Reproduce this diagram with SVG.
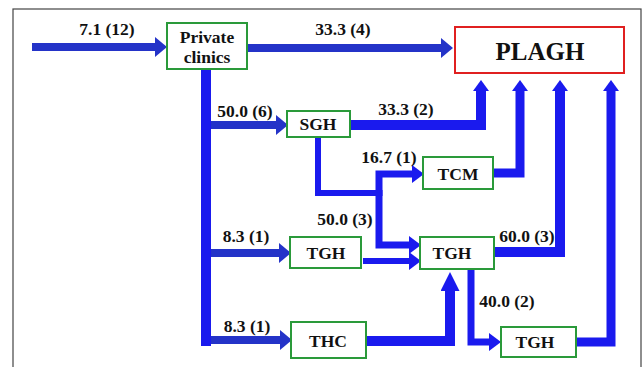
<svg xmlns="http://www.w3.org/2000/svg" width="644" height="367" viewBox="0 0 644 367">
<style>
.lbl{font-family:"Liberation Serif","Times New Roman",serif;font-weight:bold;font-size:17.5px;fill:#111;text-anchor:middle}
.nt{font-family:"Liberation Serif","Times New Roman",serif;font-weight:bold;font-size:17.5px;fill:#111;text-anchor:middle}
.gbox{fill:#fff;stroke:#2a9a3a;stroke-width:2}
.rbox{fill:#fff;stroke:#e02020;stroke-width:2}
.feed{fill:none;stroke:#2433c8;stroke-width:8}
.ln{fill:none;stroke:#1a1aee;stroke-linejoin:miter}
</style>
<defs>
<marker id="ah" markerUnits="userSpaceOnUse" markerWidth="12" markerHeight="20" refX="0" refY="10" orient="auto" viewBox="0 0 12 20">
<path d="M0,0 L12,10 L0,20 z" fill="#2433c8"/>
</marker>
<marker id="ahb" markerUnits="userSpaceOnUse" markerWidth="12" markerHeight="18" refX="0" refY="9" orient="auto" viewBox="0 0 12 18">
<path d="M0,0 L12,9 L0,18 z" fill="#1a1aee"/>
</marker>
<marker id="au" markerUnits="userSpaceOnUse" markerWidth="11" markerHeight="16" refX="0" refY="8" orient="auto" viewBox="0 0 11 16">
<path d="M0,0 L11,8 L0,16 z" fill="#1a1aee"/>
</marker>
<marker id="au2" markerUnits="userSpaceOnUse" markerWidth="19" markerHeight="19" refX="0" refY="9.5" orient="auto" viewBox="0 0 19 19">
<path d="M0,0 L19,9.5 L0,19 z" fill="#1a1aee"/>
</marker>
</defs>
<rect x="0" y="0" width="644" height="367" fill="#fff"/>
<rect x="13" y="9" width="628" height="380" fill="none" stroke="#444" stroke-width="1.2"/>

<g id="connectors">
<path class="feed" d="M32,47 H155" marker-end="url(#ah)"/>
<path class="feed" d="M248,48 H441" marker-end="url(#ah)"/>
<path class="ln" d="M206,69 V346" stroke-width="10"/>
<path class="feed" d="M211,125 H276" marker-end="url(#ah)"/>
<path class="feed" d="M211,253 H279" marker-end="url(#ah)"/>
<path class="feed" d="M211,340 H280" marker-end="url(#ah)"/>
<path class="ln" d="M351,125 H481 V91" stroke-width="10" marker-end="url(#au)"/>
<path class="ln" d="M318,137 V193 H379" stroke-width="6"/>
<path class="ln" d="M379,196 V174 H412" stroke-width="7" marker-end="url(#ahb)"/>
<path class="ln" d="M379,190 V245 H409" stroke-width="7" marker-end="url(#ahb)"/>
<path class="ln" d="M493,173 H520 V91" stroke-width="9" marker-end="url(#au)"/>
<path class="ln" d="M363,261 H409" stroke-width="6" marker-end="url(#ahb)"/>
<path class="ln" d="M494,252 H560 V91" stroke-width="10" marker-end="url(#au)"/>
<path class="ln" d="M366,341 H450 V291" stroke-width="10" marker-end="url(#au2)"/>
<path class="ln" d="M471,269 V342 H489" stroke-width="7" marker-end="url(#ahb)"/>
<path class="ln" d="M576,342 H611 V91" stroke-width="9" marker-end="url(#au)"/>
<text class="lbl" x="107" y="35">7.1 (12)</text>
<text class="lbl" x="343" y="35">33.3 (4)</text>
<text class="lbl" x="245" y="117">50.0 (6)</text>
<text class="lbl" x="406" y="115">33.3 (2)</text>
<text class="lbl" x="389" y="163">16.7 (1)</text>
<text class="lbl" x="345" y="225">50.0 (3)</text>
<text class="lbl" x="246" y="242">8.3 (1)</text>
<text class="lbl" x="527" y="242">60.0 (3)</text>
<text class="lbl" x="507" y="307">40.0 (2)</text>
<text class="lbl" x="247" y="332">8.3 (1)</text>
</g>

<g id="private-clinics">
<rect class="gbox" x="167" y="23" width="80" height="46"/>
<text class="nt" x="207" y="43">Private</text>
<text class="nt" x="207" y="63">clinics</text>
</g>
<g id="plagh">
<rect class="rbox" x="455" y="27" width="169" height="46"/>
<text class="nt" x="540" y="60" style="font-size:25px">PLAGH</text>
</g>
<g id="sgh">
<rect class="gbox" x="287" y="111" width="63" height="26"/>
<text class="nt" x="318" y="130">SGH</text>
</g>
<g id="tcm">
<rect class="gbox" x="423" y="157" width="70" height="32"/>
<text class="nt" x="458" y="180">TCM</text>
</g>
<g id="tgh-left">
<rect class="gbox" x="290" y="237" width="71" height="31"/>
<text class="nt" x="326" y="259">TGH</text>
</g>
<g id="tgh-mid">
<rect class="gbox" x="420" y="237" width="74" height="32"/>
<text class="nt" x="452" y="259">TGH</text>
</g>
<g id="thc">
<rect class="gbox" x="291" y="322" width="75" height="36"/>
<text class="nt" x="328" y="347">THC</text>
</g>
<g id="tgh-low">
<rect class="gbox" x="501" y="327" width="75" height="30"/>
<text class="nt" x="535" y="348">TGH</text>
</g>
</svg>
